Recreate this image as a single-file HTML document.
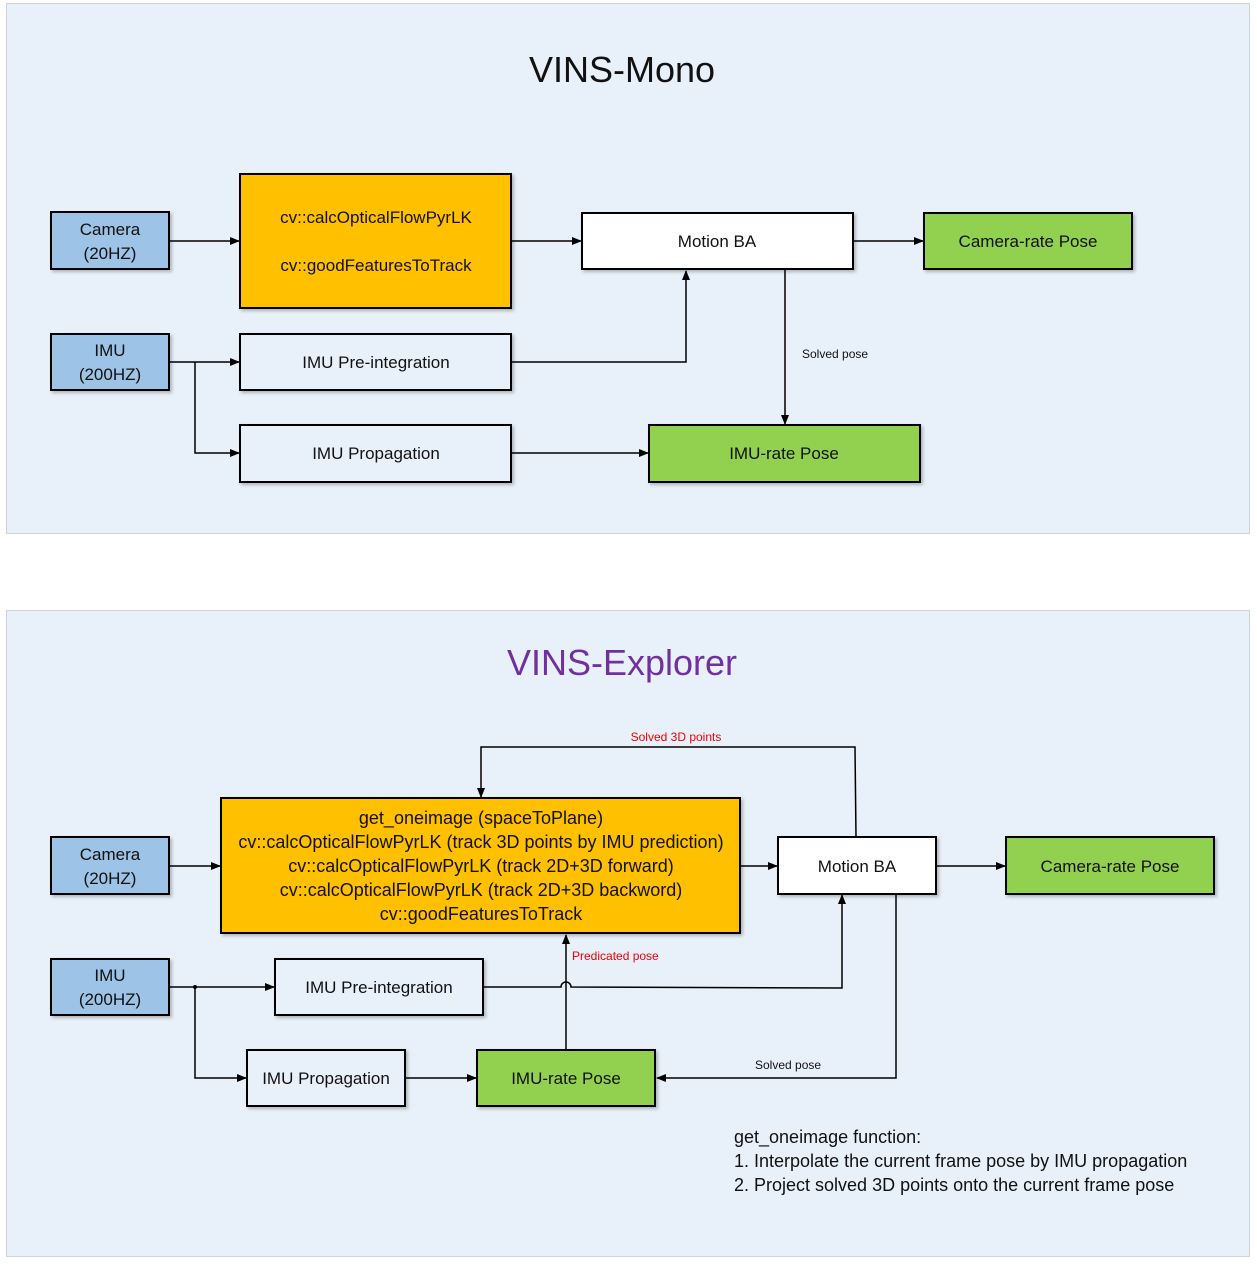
<!DOCTYPE html>
<html><head><meta charset="utf-8"><style>
body{margin:0;background:#fff;}
svg{display:block;font-family:"Liberation Sans",sans-serif;}
</style></head><body>
<svg width="1257" height="1266" viewBox="0 0 1257 1266" xmlns="http://www.w3.org/2000/svg">
<defs>
<marker id="a" markerWidth="10" markerHeight="8" refX="9" refY="4" orient="auto" markerUnits="userSpaceOnUse"><path d="M0,0L10,4L0,8z" fill="#000"/></marker>
<filter id="s" x="-10%" y="-10%" width="130%" height="140%"><feDropShadow dx="2" dy="2" stdDeviation="1.5" flood-color="#000" flood-opacity="0.25"/></filter>
</defs>
<rect x="6.5" y="3.5" width="1243" height="530" fill="#e8f0f9" stroke="#d0d4d8"/>
<rect x="6.5" y="610.5" width="1243" height="646" fill="#e8f0f9" stroke="#d0d4d8"/>
<text x="622" y="82" font-size="36" text-anchor="middle" fill="#111">VINS-Mono</text>
<text x="622" y="675" font-size="36" text-anchor="middle" fill="#7030a0">VINS-Explorer</text>
<g stroke="#000" stroke-width="2" filter="url(#s)">
<rect x="51" y="212" width="118" height="57" fill="#9dc3e6"/>
<rect x="51" y="334" width="118" height="56" fill="#9dc3e6"/>
<rect x="240" y="174" width="271" height="134" fill="#ffc000"/>
<rect x="240" y="334" width="271" height="56" fill="#e8f0f9"/>
<rect x="240" y="425" width="271" height="57" fill="#e8f0f9"/>
<rect x="582" y="213" width="271" height="56" fill="#fff"/>
<rect x="924" y="213" width="208" height="56" fill="#92d050"/>
<rect x="649" y="425" width="271" height="57" fill="#92d050"/>
<rect x="51" y="837" width="118" height="57" fill="#9dc3e6"/>
<rect x="51" y="959" width="118" height="56" fill="#9dc3e6"/>
<rect x="221" y="798" width="519" height="135" fill="#ffc000"/>
<rect x="275" y="959" width="208" height="56" fill="#e8f0f9"/>
<rect x="247" y="1050" width="158" height="56" fill="#e8f0f9"/>
<rect x="778" y="837" width="158" height="57" fill="#fff"/>
<rect x="1006" y="837" width="208" height="57" fill="#92d050"/>
<rect x="477" y="1050" width="178" height="56" fill="#92d050"/>
</g>
<g stroke="#000" stroke-width="1.5" fill="none" marker-end="url(#a)">
<path d="M169,241H239"/>
<path d="M511,241H581"/>
<path d="M853,241H923"/>
<path d="M169,362H239"/>
<path d="M195,362V453H239"/>
<path d="M511,362H686V271"/>
<path d="M511,453H648"/>
<path d="M785,269V424"/>
<path d="M169,866H220"/>
<path d="M740,866H777"/>
<path d="M936,866H1005"/>
<path d="M856,837L855,747H481V797"/>
<path d="M169,987H274"/>
<path d="M195,987V1078H246"/>
<path d="M405,1078H476"/>
<path d="M483,987H561A5,5 0 0 1 571,987L842,988V895"/>
<path d="M566,1050V935"/>
<path d="M896,894V1078H657"/>
</g>
<circle cx="195" cy="987" r="2" fill="#000"/>
<g font-size="17" text-anchor="middle" fill="#111">
<text x="110" y="235">Camera</text><text x="110" y="259">(20HZ)</text>
<text x="110" y="356">IMU</text><text x="110" y="380">(200HZ)</text>
<text x="376" y="223">cv::calcOpticalFlowPyrLK</text>
<text x="376" y="271">cv::goodFeaturesToTrack</text>
<text x="376" y="368">IMU Pre-integration</text>
<text x="376" y="459">IMU Propagation</text>
<text x="717" y="247">Motion BA</text>
<text x="1028" y="247">Camera-rate Pose</text>
<text x="784" y="459">IMU-rate Pose</text>
<text x="110" y="860">Camera</text><text x="110" y="884">(20HZ)</text>
<text x="110" y="981">IMU</text><text x="110" y="1005">(200HZ)</text>
<g font-size="18">
<text x="481" y="824">get_oneimage (spaceToPlane)</text>
<text x="481" y="848">cv::calcOpticalFlowPyrLK (track 3D points by IMU prediction)</text>
<text x="481" y="872">cv::calcOpticalFlowPyrLK (track 2D+3D forward)</text>
<text x="481" y="896">cv::calcOpticalFlowPyrLK (track 2D+3D backword)</text>
<text x="481" y="920">cv::goodFeaturesToTrack</text>
</g>
<text x="379" y="993">IMU Pre-integration</text>
<text x="326" y="1084">IMU Propagation</text>
<text x="857" y="872">Motion BA</text>
<text x="1110" y="872">Camera-rate Pose</text>
<text x="566" y="1084">IMU-rate Pose</text>
</g>
<text x="802" y="358" font-size="12" fill="#111">Solved pose</text>
<text x="755" y="1069" font-size="12" fill="#111">Solved pose</text>
<text x="676" y="741" font-size="12" fill="#e00" text-anchor="middle">Solved 3D points</text>
<text x="572" y="960" font-size="12" fill="#e00">Predicated pose</text>
<g font-size="18" fill="#111">
<text x="734" y="1143">get_oneimage function:</text>
<text x="734" y="1167">1. Interpolate the current frame pose by IMU propagation</text>
<text x="734" y="1191">2. Project solved 3D points onto the current frame pose</text>
</g>
</svg>
</body></html>
